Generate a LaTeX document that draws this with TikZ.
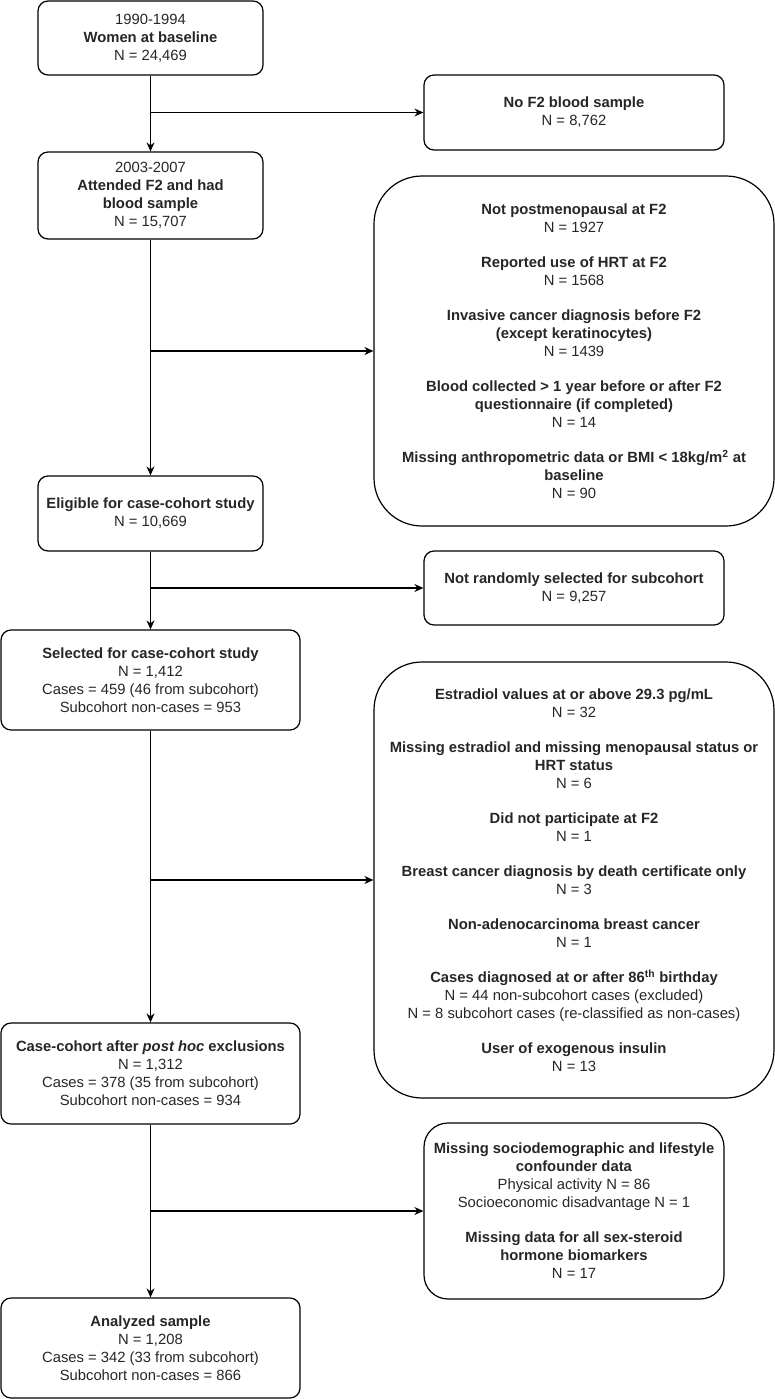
\documentclass[tikz,border=0pt]{standalone}
\usepackage{fontspec}
\setmainfont{Liberation Sans}
\usetikzlibrary{arrows.meta}

\tikzset{
  box/.style={draw, line width=1.2pt, rounded corners=10pt, align=center, inner sep=2pt,
    text=black!85, font=\fontsize{14.8}{18}\selectfont},
  bigbox/.style={box, rounded corners=48pt},
  midbox/.style={box, rounded corners=24pt},
  arr/.style={line width=1.2pt, -{Stealth[length=9pt,width=8pt]}}
}

\begin{document}
\begin{tikzpicture}[x=1pt,y=-1pt]
\useasboundingbox (0,0) rectangle (775,1399);
% main column
\node[box, minimum width=225pt, minimum height=74pt] (base) at (150.5,38) {1990-1994\\ \textbf{Women at baseline}\\ N = 24,469};
\node[box, minimum width=225pt, minimum height=87pt] (attend) at (150.5,195.5) {2003-2007\\ \textbf{Attended F2 and had}\\ \textbf{blood sample}\\ N = 15,707};
\node[box, minimum width=225pt, minimum height=75pt] (elig) at (150.5,513.5) {\textbf{Eligible for case-cohort study}\\ N = 10,669};
\node[box, minimum width=299pt, minimum height=100pt] (select) at (150.5,680) {\textbf{Selected for case-cohort study}\\ N = 1,412\\ Cases = 459 (46 from subcohort)\\ Subcohort non-cases = 953};
\node[box, minimum width=299pt, minimum height=101pt] (posthoc) at (150.5,1073.5) {\textbf{Case-cohort after \textit{post hoc} exclusions}\\ N = 1,312\\ Cases = 378 (35 from subcohort)\\ Subcohort non-cases = 934};
\node[box, minimum width=299pt, minimum height=100pt] (analyzed) at (150.5,1348) {\textbf{Analyzed sample}\\ N = 1,208\\ Cases = 342 (33 from subcohort)\\ Subcohort non-cases = 866};
% exclusions
\node[box, minimum width=300pt, minimum height=75pt] (noblood) at (574,112.5) {\textbf{No F2 blood sample}\\ N = 8,762};
\node[bigbox, minimum width=400pt, minimum height=350pt] (exclA) at (574,351) {%
\textbf{Not postmenopausal at F2}\\ N = 1927\\[17pt]
\textbf{Reported use of HRT at F2}\\ N = 1568\\[17pt]
\textbf{Invasive cancer diagnosis before F2}\\ \textbf{(except keratinocytes)}\\ N = 1439\\[17pt]
\textbf{Blood collected > 1 year before or after F2}\\ \textbf{questionnaire (if completed)}\\ N = 14\\[17pt]
\textbf{Missing anthropometric data or BMI < 18kg/m\textsuperscript{2} at}\\ \textbf{baseline}\\ N = 90};
\node[box, minimum width=300pt, minimum height=74pt] (notrand) at (574,588) {\textbf{Not randomly selected for subcohort}\\ N = 9,257};
\node[bigbox, minimum width=400pt, minimum height=436pt] (exclB) at (574,880) {%
\textbf{Estradiol values at or above 29.3 pg/mL}\\ N = 32\\[17pt]
\textbf{Missing estradiol and missing menopausal status or}\\ \textbf{HRT status}\\ N = 6\\[17pt]
\textbf{Did not participate at F2}\\ N = 1\\[17pt]
\textbf{Breast cancer diagnosis by death certificate only}\\ N = 3\\[17pt]
\textbf{Non-adenocarcinoma breast cancer}\\ N = 1\\[17pt]
\textbf{Cases diagnosed at or after 86\textsuperscript{th} birthday}\\ N = 44 non-subcohort cases (excluded)\\ N = 8 subcohort cases (re-classified as non-cases)\\[17pt]
\textbf{User of exogenous insulin}\\ N = 13};
\node[midbox, minimum width=300pt, minimum height=176pt] (missing) at (574,1211) {%
\textbf{Missing sociodemographic and lifestyle}\\ \textbf{confounder data}\\ Physical activity N = 86\\ Socioeconomic disadvantage N = 1\\[17pt]
\textbf{Missing data for all sex-steroid}\\ \textbf{hormone biomarkers}\\ N = 17};
% flow
\draw[arr] (base) -- (attend);
\draw[arr] (attend) -- (elig);
\draw[arr] (elig) -- (select);
\draw[arr] (select) -- (posthoc);
\draw[arr] (posthoc) -- (analyzed);
\draw[arr] (base.south |- noblood.west) -- (noblood.west);
\draw[arr] (attend.south |- exclA.west) -- (exclA.west);
\draw[arr] (elig.south |- notrand.west) -- (notrand.west);
\draw[arr] (select.south |- exclB.west) -- (exclB.west);
\draw[arr] (posthoc.south |- missing.west) -- (missing.west);
\end{tikzpicture}
\end{document}
